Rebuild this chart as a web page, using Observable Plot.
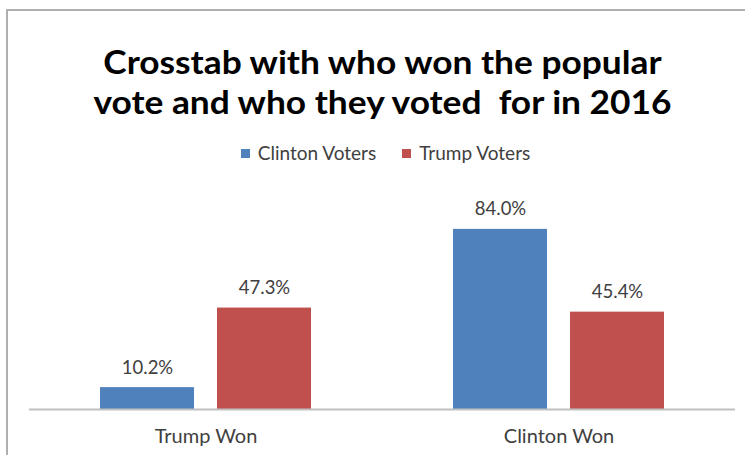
<!DOCTYPE html>
<html>
<head>
<meta charset="utf-8">
<script src="https://cdn.jsdelivr.net/npm/d3@7"></script>
<script src="https://cdn.jsdelivr.net/npm/@observablehq/plot@0.6"></script>
<style>
  html, body { margin: 0; padding: 0; background: #fff; overflow: hidden; }
  #wrap { position: relative; width: 745px; height: 455px; overflow: hidden; font-family: Lato, sans-serif; }
  #frame { position: absolute; left: 6px; top: 9px; width: 800px; height: 500px; border-top: 2px solid #b0b0b0; border-left: 2px solid #b0b0b0; }
  #title { position: absolute; left: 10px; top: 41px; width: 745px; text-align: center; font-weight: bold; font-size: 33px; line-height: 40px; color: #000; transform: scaleX(1.07); transform-origin: 50% 50%; }
  #legend { position: absolute; left: 13px; top: 141px; width: 745px; text-align: center; font-size: 19px; color: #404040; line-height: 24px; }
  #legend span.sw { display: inline-block; width: 9px; height: 9px; margin-right: 8px; vertical-align: 2px; }
  #legend span.item { margin: 0 13px; }
  #chart { position: absolute; left: 0; top: 0; }
</style>
</head>
<body>
<div id="wrap">
  <div id="frame"></div>
  <div id="chart"></div>
  <div id="title"></div>
  <div id="legend"></div>
</div>
<script>
const titleLines = ["Crosstab with who won the popular", "vote and who they voted\u00a0 for in 2016"];
const categories = ["Trump Won", "Clinton Won"];
const seriesNames = ["Clinton Voters", "Trump Voters"];
const seriesColors = ["#4F81BD", "#C0504D"];
const clintonVoters = [10.2, 84.0];
const trumpVoters = [47.3, 45.4];

const data = [];
categories.forEach((c, i) => {
  data.push({category: c, series: seriesNames[0], value: clintonVoters[i]});
  data.push({category: c, series: seriesNames[1], value: trumpVoters[i]});
});

document.getElementById("title").innerHTML = titleLines.join("<br>");
document.getElementById("legend").innerHTML = seriesNames.map((s, i) =>
  `<span class="item"><span class="sw" style="background:${seriesColors[i]}"></span>${s}</span>`).join("");

const chart = Plot.plot({
  width: 745,
  height: 455,
  marginLeft: 29,
  marginRight: 10,
  marginTop: 216,
  marginBottom: 46,
  style: {fontFamily: "Lato, sans-serif", fontSize: "18px", color: "#404040", background: "transparent"},
  fx: {domain: categories, padding: 0, label: null},
  x: {domain: seriesNames, paddingInner: 0.2, paddingOuter: 0.6, axis: null},
  y: {domain: [0, 90], axis: null},
  color: {domain: seriesNames, range: seriesColors},
  marks: [
    Plot.barY(data, {fx: "category", x: "series", y: "value", fill: "series"}),
    Plot.ruleY([0], {stroke: "#c0c0c0", strokeWidth: 2}),
    Plot.text(data, {fx: "category", x: "series", y: "value", text: d => d.value.toFixed(1) + "%", dy: -20, fill: "#404040", fontSize: 18.5}),
    Plot.axisFx({anchor: "bottom", tickSize: 0, tickPadding: 19, label: null, fontSize: 20, fill: "#404040"})
  ]
});
document.getElementById("chart").appendChild(chart);
</script>
</body>
</html>
